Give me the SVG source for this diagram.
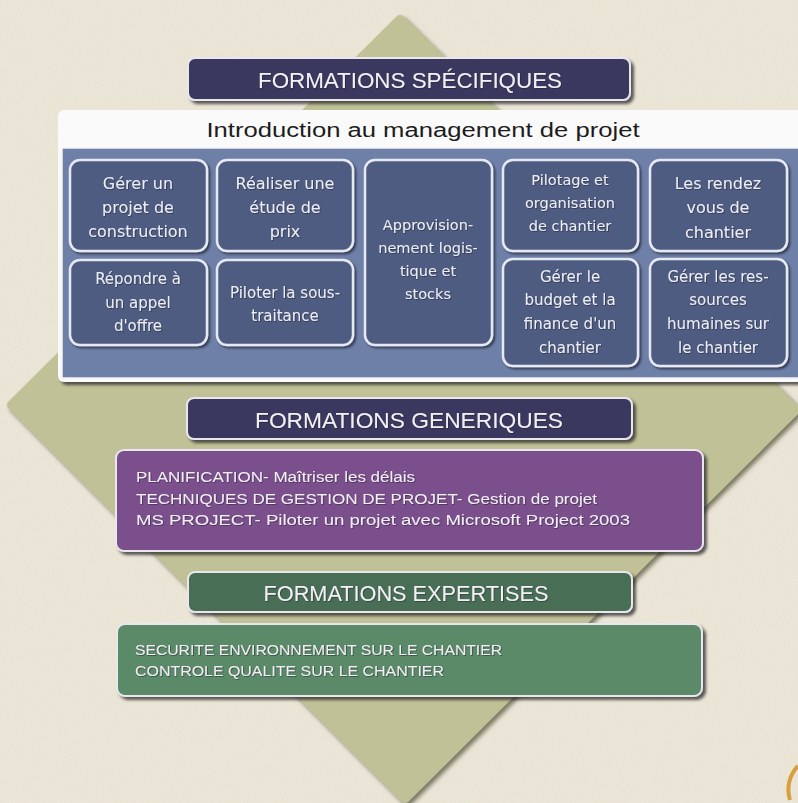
<svg xmlns="http://www.w3.org/2000/svg" width="798" height="803" viewBox="0 0 798 803">
<defs>
<filter id="paper" x="0" y="0" width="100%" height="100%">
<feTurbulence type="fractalNoise" baseFrequency="0.9" numOctaves="2" seed="3" result="n"/>
<feColorMatrix in="n" type="matrix" values="0 0 0 0 0.55  0 0 0 0 0.5  0 0 0 0 0.4  0 0 0 0.18 0" result="c"/>
<feComposite in="c" in2="SourceGraphic" operator="over"/>
</filter>
<filter id="sh" x="-10%" y="-10%" width="125%" height="135%">
<feDropShadow dx="3" dy="3" stdDeviation="1.6" flood-color="#2a2a2a" flood-opacity="0.75"/>
</filter>
<filter id="shs" x="-10%" y="-10%" width="125%" height="135%">
<feDropShadow dx="2" dy="2" stdDeviation="1.2" flood-color="#1e2230" flood-opacity="0.7"/>
</filter>
<filter id="dsh" x="-5%" y="-5%" width="112%" height="112%">
<feDropShadow dx="3" dy="3" stdDeviation="2" flood-color="#5e5e45" flood-opacity="0.8"/>
</filter>
<filter id="tsh" x="-5%" y="-20%" width="110%" height="150%">
<feDropShadow dx="0.8" dy="0.8" stdDeviation="0.4" flood-color="#1a1a2a" flood-opacity="0.6"/>
</filter>
</defs>
<style>
.hdr{stroke:#e9e6ee;stroke-width:2;filter:url(#sh)}
.ht{font-family:"Liberation Sans",Arial,sans-serif;font-size:22px;fill:#f1f0f4;text-anchor:middle;filter:url(#tsh)}
.ib{fill:#4f5b82;stroke:#e6e9f3;stroke-width:2.5;filter:url(#shs)}
.bt{font-family:"DejaVu Sans","Liberation Sans",sans-serif;font-size:16px;fill:#eceef5;text-anchor:middle;filter:url(#tsh)}
.sm{font-size:14.5px}
.md{font-size:15px}
.lt{font-family:"Liberation Sans",Arial,sans-serif;font-size:14px;fill:#f3eef5;filter:url(#tsh)}
</style>
<rect width="798" height="803" fill="#eee8da" filter="url(#paper)"/>
<g id="diamond">
<path d="M400,20 L795,410 L405,798 L12,405 Z" fill="#c0c196" stroke="#c0c196" stroke-width="10" stroke-linejoin="round" filter="url(#dsh)"/>
</g>
<path d="M798,766 A34,34 0 0 0 790,800" fill="none" stroke="#d8a03c" stroke-width="4"/>

<g id="hdr-specifiques">
<rect class="hdr" x="188" y="58" width="442" height="42" rx="7" fill="#3b3760"/>
<text class="ht" x="410" y="88" textLength="304" lengthAdjust="spacingAndGlyphs">FORMATIONS SPÉCIFIQUES</text>
</g>

<g id="panel-intro">
<rect x="58" y="110" width="745" height="272" rx="6" fill="#fafafa" filter="url(#sh)"/>
<text x="423" y="137" font-family="Liberation Sans,Arial,sans-serif" font-size="20" fill="#1c1c1c" text-anchor="middle" textLength="433" lengthAdjust="spacingAndGlyphs">Introduction au management de projet</text>
<rect x="62" y="148" width="740" height="230" fill="#6f80a8" stroke="#f2f2f2" stroke-width="1.5"/>
</g>

<g id="n-gerer-projet">
<rect class="ib" x="70" y="160" width="137" height="91" rx="10"/>
<text class="bt" x="138" y="189">Gérer un</text>
<text class="bt" x="138" y="213">projet de</text>
<text class="bt" x="138" y="237">construction</text>
</g>
<g id="n-etude-prix">
<rect class="ib" x="217" y="160" width="136" height="91" rx="10"/>
<text class="bt" x="285" y="189">Réaliser une</text>
<text class="bt" x="285" y="213">étude de</text>
<text class="bt" x="285" y="237">prix</text>
</g>
<g id="n-appel-offre">
<rect class="ib" x="70" y="260" width="137" height="85" rx="10"/>
<text class="bt md" x="138" y="284">Répondre à</text>
<text class="bt md" x="138" y="308">un appel</text>
<text class="bt md" x="138" y="331">d'offre</text>
</g>
<g id="n-sous-traitance">
<rect class="ib" x="217" y="260" width="136" height="85" rx="10"/>
<text class="bt md" x="285" y="298">Piloter la sous-</text>
<text class="bt md" x="285" y="321">traitance</text>
</g>
<g id="n-approvisionnement">
<rect class="ib" x="365" y="160" width="127" height="185" rx="10"/>
<text class="bt sm" x="428" y="230">Approvision-</text>
<text class="bt sm" x="428" y="253">nement logis-</text>
<text class="bt sm" x="428" y="276">tique et</text>
<text class="bt sm" x="428" y="299">stocks</text>
</g>
<g id="n-pilotage">
<rect class="ib" x="503" y="160" width="135" height="91" rx="10"/>
<text class="bt sm" x="570" y="185">Pilotage et</text>
<text class="bt sm" x="570" y="208">organisation</text>
<text class="bt sm" x="570" y="231">de chantier</text>
</g>
<g id="n-rendez-vous">
<rect class="ib" x="650" y="160" width="137" height="91" rx="10"/>
<text class="bt" x="718" y="189">Les rendez</text>
<text class="bt" x="718" y="213">vous de</text>
<text class="bt" x="718" y="238">chantier</text>
</g>
<g id="n-budget">
<rect class="ib" x="503" y="259" width="135" height="107" rx="10"/>
<text class="bt md" x="570" y="282">Gérer le</text>
<text class="bt md" x="570" y="305">budget et la</text>
<text class="bt md" x="570" y="329">finance d'un</text>
<text class="bt md" x="570" y="353">chantier</text>
</g>
<g id="n-rh">
<rect class="ib" x="650" y="259" width="137" height="107" rx="10"/>
<text class="bt md" x="718" y="282">Gérer les res-</text>
<text class="bt md" x="718" y="305">sources</text>
<text class="bt md" x="718" y="329">humaines sur</text>
<text class="bt md" x="718" y="353">le chantier</text>
</g>

<g id="hdr-generiques">
<rect class="hdr" x="187" y="398" width="445" height="41" rx="7" fill="#3b3760"/>
<text class="ht" x="409" y="428" textLength="308" lengthAdjust="spacingAndGlyphs">FORMATIONS GENERIQUES</text>
</g>
<g id="box-generiques">
<rect class="hdr" x="116" y="450" width="587" height="101" rx="8" fill="#7a4f8c"/>
<text class="lt" x="136" y="482" textLength="279" lengthAdjust="spacingAndGlyphs">PLANIFICATION- Maîtriser les délais</text>
<text class="lt" x="136" y="504" textLength="461" lengthAdjust="spacingAndGlyphs">TECHNIQUES DE GESTION DE PROJET- Gestion de projet</text>
<text class="lt" x="136" y="525" textLength="494" lengthAdjust="spacingAndGlyphs">MS PROJECT- Piloter un projet avec Microsoft Project 2003</text>
</g>

<g id="hdr-expertises">
<rect class="hdr" x="188" y="572" width="444" height="40" rx="7" fill="#4a6e56"/>
<text class="ht" x="406" y="601" textLength="285" lengthAdjust="spacingAndGlyphs">FORMATIONS EXPERTISES</text>
</g>
<g id="box-expertises">
<rect class="hdr" x="117" y="624" width="585" height="72" rx="8" fill="#5a8a68"/>
<text class="lt" x="135" y="655" font-size="13" textLength="367" lengthAdjust="spacingAndGlyphs">SECURITE ENVIRONNEMENT SUR LE CHANTIER</text>
<text class="lt" x="135" y="676" font-size="13" textLength="309" lengthAdjust="spacingAndGlyphs">CONTROLE QUALITE SUR LE CHANTIER</text>
</g>
<g id="connectors"/>
</svg>
